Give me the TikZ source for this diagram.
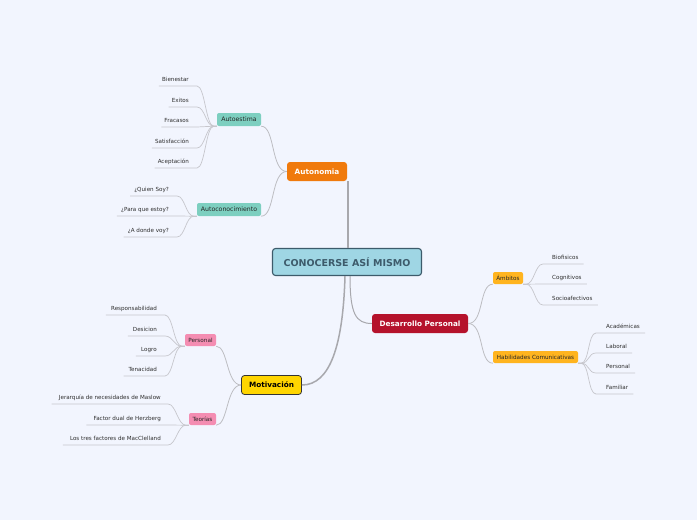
\documentclass[tikz,border=0pt]{standalone}
\usepackage{fontspec}
\setmainfont{DejaVu Sans}

\definecolor{bgpage}{HTML}{F2F5FE}
\definecolor{cenfill}{HTML}{9FD6E4}
\definecolor{cenedge}{HTML}{3D5B6B}
\definecolor{orangetopic}{HTML}{F07A0C}
\definecolor{redtopic}{HTML}{B5122C}
\definecolor{yellowtopic}{HTML}{FFD500}
\definecolor{tealsub}{HTML}{7DCFC0}
\definecolor{ambersub}{HTML}{FFB41F}
\definecolor{pinksub}{HTML}{F48DB2}
\definecolor{leafgray}{HTML}{2E2E2E}
\definecolor{trunkgray}{HTML}{A8A8AD}
\definecolor{linegray}{HTML}{BDBDC2}
\definecolor{twiggray}{HTML}{C6C6CC}

\tikzset{
  topic/.style={rounded corners=3pt,inner sep=0pt,font=\fontsize{7.3}{8}\selectfont\bfseries},
  subtopic/.style={rounded corners=2pt,inner sep=0pt,minimum height=13pt,font=\fontsize{6.2}{7}\selectfont},
  smallsub/.style={rounded corners=2pt,inner sep=0pt,minimum height=12pt,font=\fontsize{5.7}{6}\selectfont},
  leaf/.style={font=\fontsize{5.6}{6}\selectfont,text=leafgray,inner xsep=3pt,inner ysep=3.3pt,text height=4.2pt,text depth=1.2pt},
  trunk/.style={draw=trunkgray,line width=1.5pt},
  branch/.style={draw=linegray,line width=0.8pt},
  twig/.style={draw=twiggray,line width=0.7pt}
}

\begin{document}
\begin{tikzpicture}[x=1pt,y=-1pt]
\fill[bgpage] (0,0) rectangle (697,520);
\useasboundingbox (0,0) rectangle (697,520);

\node[topic,fill=cenfill,draw=cenedge,line width=1.1pt,minimum width=149pt,minimum height=27pt,text=cenedge,font=\fontsize{9.5}{10}\selectfont\bfseries] (cen) at (347,262) {CONOCERSE ASÍ MISMO};
\node[topic,fill=orangetopic,text=white,minimum width=60pt,minimum height=19pt] (auto) at (317,171.5) {Autonomia};
\node[topic,fill=redtopic,text=white,minimum width=96pt,minimum height=19pt] (dev) at (420,323.5) {Desarrollo Personal};
\node[topic,fill=yellowtopic,draw=black!80,line width=0.8pt,text=black,minimum width=60pt,minimum height=19pt] (mot) at (271.5,385) {Motivación};

\node[subtopic,fill=tealsub,text=black!85,minimum width=44pt] (aest) at (239,119.5) {Autoestima};
\node[subtopic,fill=tealsub,text=black!85,minimum width=64pt] (acon) at (229,209.5) {Autoconocimiento};
\node[smallsub,fill=ambersub,text=black!85,minimum width=30pt] (amb) at (508,278) {Ámbitos};
\node[smallsub,fill=ambersub,text=black!85,minimum width=85pt] (hab) at (535.5,357) {Habilidades Comunicativas};
\node[smallsub,fill=pinksub,text=black!85,minimum width=31pt] (pers) at (200.5,340) {Personal};
\node[smallsub,fill=pinksub,text=black!85,minimum width=27pt] (teo) at (202.5,419) {Teorías};

\node[leaf,anchor=south east] (b1) at (192,86) {Bienestar};
\node[leaf,anchor=south east] (b2) at (192,107) {Exitos};
\node[leaf,anchor=south east] (b3) at (192,127) {Fracasos};
\node[leaf,anchor=south east] (b4) at (192,148) {Satisfacción};
\node[leaf,anchor=south east] (b5) at (192,168) {Aceptación};

\node[leaf,anchor=south east] (c1) at (172,196) {¿Quien Soy?};
\node[leaf,anchor=south east] (c2) at (172,216) {¿Para que estoy?};
\node[leaf,anchor=south east] (c3) at (172,237) {¿A donde voy?};

\node[leaf,anchor=south east] (p1) at (160,315) {Responsabilidad};
\node[leaf,anchor=south east] (p2) at (160,336) {Desicion};
\node[leaf,anchor=south east] (p3) at (160,356) {Logro};
\node[leaf,anchor=south east] (p4) at (160,376) {Tenacidad};

\node[leaf,anchor=south east] (t1) at (164,404) {Jerarquía de necesidades de Maslow};
\node[leaf,anchor=south east] (t2) at (164,425) {Factor dual de Herzberg};
\node[leaf,anchor=south east] (t3) at (164,445) {Los tres factores de MacClelland};

\node[leaf,anchor=south west] (a1) at (549,264) {Biofisicos};
\node[leaf,anchor=south west] (a2) at (549,284) {Cognitivos};
\node[leaf,anchor=south west] (a3) at (549,305) {Socioafectivos};

\node[leaf,anchor=south west] (h1) at (603,333) {Académicas};
\node[leaf,anchor=south west] (h2) at (603,353) {Laboral};
\node[leaf,anchor=south west] (h3) at (603,373) {Personal};
\node[leaf,anchor=south west] (h4) at (603,394) {Familiar};

\draw[trunk] (auto.south east) ++(1,0) -- ([xshift=1pt]auto.south east |- cen.north);
\draw[trunk] ([xshift=-2pt]cen.south) .. controls +(-2,70) and +(28,0) .. (mot.east);
\draw[trunk,line width=1pt] ([xshift=3pt]cen.south) .. controls +(0,38) and +(-16,0) .. (dev.west);

\draw[branch] (auto.west) .. controls +(-16,0) and +(14,0) .. (aest.south east);
\draw[branch] (auto.west) .. controls +(-16,0) and +(14,0) .. (acon.south east);
\draw[branch] (dev.east) .. controls +(16,0) and +(-14,0) .. (amb.south west);
\draw[branch] (dev.east) .. controls +(16,0) and +(-14,0) .. (hab.south west);
\draw[branch] (mot.west) .. controls +(-15,0) and +(12,0) .. (pers.south east);
\draw[branch] (mot.west) .. controls +(-15,0) and +(12,0) .. (teo.south east);

\foreach \leaf in {b1,b2,b3,b4,b5}
  \draw[twig] (aest.south west) -- ++(-3,0) .. controls +(-8,0) and +(8,0) .. ([xshift=5pt]\leaf.south east) -- (\leaf.south west);
\foreach \leaf in {c1,c2,c3}
  \draw[twig] (acon.south west) -- ++(-3,0) .. controls +(-8,0) and +(8,0) .. ([xshift=5pt]\leaf.south east) -- ([xshift=-1pt]\leaf.south west);
\foreach \leaf in {p1,p2,p3,p4}
  \draw[twig] (pers.south west) -- ++(-3,0) .. controls +(-8,0) and +(8,0) .. ([xshift=5pt]\leaf.south east) -- ([xshift=-2pt]\leaf.south west);
\foreach \leaf in {t1,t2,t3}
  \draw[twig] (teo.south west) -- ++(-3,0) .. controls +(-8,0) and +(8,0) .. ([xshift=4pt]\leaf.south east) -- ([xshift=-4pt]\leaf.south west);
\foreach \leaf in {a1,a2,a3}
  \draw[twig] (amb.south east) -- ++(3,0) .. controls +(8,0) and +(-8,0) .. ([xshift=-6pt]\leaf.south west) -- ([xshift=2pt]\leaf.south east);
\foreach \leaf in {h1,h2,h3,h4}
  \draw[twig] (hab.south east) -- ++(3,0) .. controls +(8,0) and +(-8,0) .. ([xshift=-7pt]\leaf.south west) -- ([xshift=2pt]\leaf.south east);
\end{tikzpicture}
\end{document}
